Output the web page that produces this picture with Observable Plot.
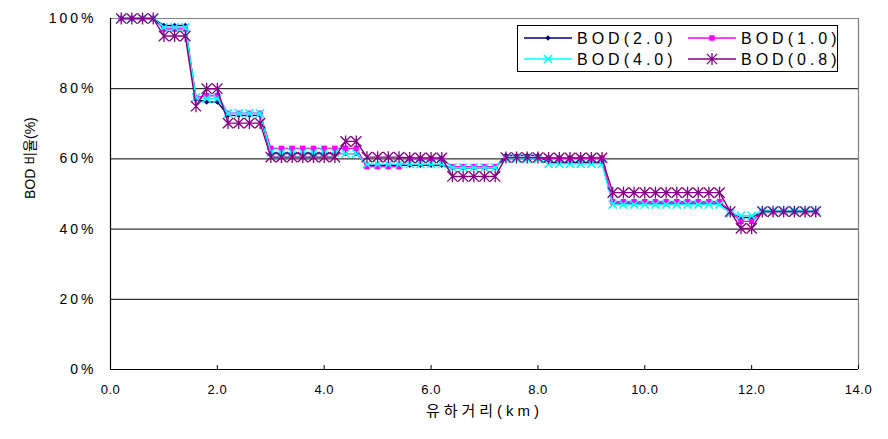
<!DOCTYPE html>
<html><head><meta charset="utf-8">
<script src="https://cdn.jsdelivr.net/npm/d3@7"></script>
<script src="https://cdn.jsdelivr.net/npm/@observablehq/plot@0.6"></script>
<style>
body{margin:0;background:#fff}
#chart{position:relative;width:888px;height:439px}
</style>
</head><body><div id="chart"></div>
<script>
// distance downstream (km)
const km = [0.2,0.4,0.6,0.8,1.0,1.2,1.4,1.6,1.8,2.0,2.2,2.4,2.6,2.8,3.0,3.2,3.4,3.6,3.8,4.0,4.2,4.4,4.6,4.8,5.0,5.2,5.4,5.6,5.8,6.0,6.2,6.4,6.6,6.8,7.0,7.2,7.4,7.6,7.8,8.0,8.2,8.4,8.6,8.8,9.0,9.2,9.4,9.6,9.8,10.0,10.2,10.4,10.6,10.8,11.0,11.2,11.4,11.6,11.8,12.0,12.2,12.4,12.6,12.8,13.0,13.2];
const bod20 = [100,100,100,100,98,98,98,77,76.2,76.2,72.4,72.4,72.4,72.4,61.5,61.5,61.5,61.5,61.5,61.5,61.5,61.5,61.5,58.2,58.2,58.2,58.2,58.2,58.2,58.2,58.2,57.5,57.5,57.5,57.5,57.5,61,61,61,61,59,59,59,59,59,59,47.4,47.4,47.4,47.4,47.4,47.4,47.4,47.4,47.4,47.4,47.4,45,43.3,43.3,45,45,45,45,45,45];
const bod10 = [100,100,100,100,97,97,97,77.5,78,78,73,73,73,73,63,63,63,63,63,63,63,63,63,57.8,57.8,57.8,57.8,60,60,60,60,57.8,57.8,57.8,57.8,57.8,60.3,60.3,60.3,60.3,60.2,60.2,60.2,60.2,60.2,60.2,47.8,47.8,47.8,47.8,47.8,47.8,47.8,47.8,47.8,47.8,47.8,45,42.2,42.2,45,45,45,45,45,45];
const bod40 = [100,100,100,100,97.5,97.5,97.5,77.5,77.2,77.2,73,73,73,73,61.8,61.8,61.8,61.8,61.8,61.8,61.8,61.5,61.5,58.5,58.5,58.5,58.5,58.5,58.5,58.5,58.5,57.5,57.5,57.5,57.5,57.5,60,60,60,60,58.6,58.6,58.6,58.6,58.6,58.6,47,47,47,47,47,47,47,47,47,47,47,44.5,43.8,43.8,45.3,45.3,45.3,45.3,45.3,45.3];
const bod08 = [100,100,100,100,95,95,95,75,80,80,70.2,70.2,70.2,70.2,60.5,60.5,60.5,60.5,60.5,60.5,60.5,65,65,60.5,60.5,60.5,60.5,60.3,60.3,60.3,60.3,55,55,55,55,55,60.4,60.4,60.4,60.4,60.3,60.3,60.3,60.3,60.3,60.3,50.4,50.4,50.4,50.4,50.4,50.4,50.4,50.4,50.4,50.4,50.4,45,40.2,40.2,45,45,45,45,45,45];
const seriesNames = ["BOD(2.0)","BOD(1.0)","BOD(4.0)","BOD(0.8)"];
const colors = ["#000080","#FF00FF","#00FFFF","#800080"];
const xTicks = [0,2,4,6,8,10,12,14];
const yTicks = [0,20,40,60,80,100];
const gridTicks = [20,40,60,80];
const xLabel = "유하거리(km)";
const yLabel = "BOD 비율(%)";

const seriesData = [bod20, bod10, bod40, bod08];
const rows = [];
seriesNames.forEach((name, i) => seriesData[i].forEach((v, j) => rows.push({series: name, km: km[j], value: v})));

const asterisk = {draw(ctx, size) {
  const r = Math.sqrt(size) / 2;
  ctx.moveTo(-r, -r); ctx.lineTo(r, r);
  ctx.moveTo(-r, r); ctx.lineTo(r, -r);
  ctx.moveTo(0, -r * 1.15); ctx.lineTo(0, r * 1.15);
}};
const symbolSpec = [
  {symbol: "diamond2", fill: colors[0], stroke: "none", r: 2.4, strokeWidth: 0},
  {symbol: "square", fill: colors[1], stroke: "none", r: 3.1, strokeWidth: 0},
  {symbol: "times", fill: "none", stroke: colors[2], r: 3.8, strokeWidth: 1.5},
  {symbol: asterisk, fill: "none", stroke: colors[3], r: 5.8, strokeWidth: 1.3}
];

const seriesMarks = [];
seriesNames.forEach((name, i) => {
  const d = rows.filter(r => r.series === name);
  seriesMarks.push(Plot.line(d, {x: "km", y: "value", stroke: colors[i], strokeWidth: 1.4}));
  seriesMarks.push(Plot.dot(d, {x: "km", y: "value", ...symbolSpec[i]}));
});

const chart = Plot.plot({
  width: 888, height: 439,
  marginLeft: 110, marginRight: 30, marginTop: 18, marginBottom: 70,
  style: {fontFamily: "'Liberation Sans', 'Noto Sans CJK KR', sans-serif", fontSize: "13px", color: "#000", background: "#fff", overflow: "visible"},
  x: {domain: [0, 14], label: null},
  y: {domain: [0, 100], label: null},
  marks: [
    Plot.ruleY(gridTicks, {stroke: "#000", strokeWidth: 1}),
    Plot.ruleY([100], {stroke: "#808080", strokeWidth: 1.2}),
    Plot.ruleX([14], {stroke: "#808080", strokeWidth: 1.2}),
    Plot.ruleX([0], {stroke: "#000", strokeWidth: 1.2}),
    Plot.ruleY([0], {stroke: "#000", strokeWidth: 1.2}),
    Plot.axisY(yTicks, {tickSize: 0, tickPadding: 14, tickFormat: d => d + "%", label: null, fontSize: 14}),
    Plot.axisX(xTicks, {tickSize: 4, insetBottom: 4, tickFormat: () => "", label: null}),
    Plot.axisX(xTicks, {tickSize: 0, tickPadding: 15, tickFormat: d => d.toFixed(1), label: null, fontSize: 13}),
    Plot.text([xLabel], {frameAnchor: "bottom", dy: 46, text: d => d, fontSize: 15}),
    Plot.text([yLabel], {frameAnchor: "left", dx: -80, dy: 5, rotate: -90, text: d => d, fontSize: 14}),
    ...seriesMarks
  ]
});
document.getElementById("chart").appendChild(chart);

const svg = d3.select(chart);
svg.selectAll('g[aria-label="y-axis tick label"] text').attr("letter-spacing", "3px");
svg.selectAll('g[aria-label="x-axis tick label"] text').attr("letter-spacing", "0.5px");
svg.selectAll("text").filter(function() { return this.textContent === xLabel; }).attr("letter-spacing", "4px");

// legend (inside plot area)
const lg = svg.append("g").attr("font-family", "'Liberation Sans', 'Noto Sans CJK KR', sans-serif");
lg.append("rect").attr("x", 517.5).attr("y", 25.5).attr("width", 320).attr("height", 46)
  .attr("fill", "#fff").attr("stroke", "#000").attr("stroke-width", 1);
const pos = [[524, 38], [688, 38], [524, 59], [688, 59]];
seriesNames.forEach((name, i) => {
  const [x0, y0] = pos[i];
  const s = symbolSpec[i];
  lg.append("line").attr("x1", x0).attr("x2", x0 + 48).attr("y1", y0).attr("y2", y0)
    .attr("stroke", colors[i]).attr("stroke-width", 1.4);
  const type = typeof s.symbol === "string"
    ? {diamond2: d3.symbolDiamond2, square: d3.symbolSquare, times: d3.symbolTimes}[s.symbol]
    : s.symbol;
  lg.append("path").attr("transform", `translate(${x0 + 24},${y0})`)
    .attr("d", d3.symbol(type, Math.PI * s.r * s.r)())
    .attr("fill", s.fill).attr("stroke", s.stroke).attr("stroke-width", s.strokeWidth);
  lg.append("text").attr("x", x0 + 53).attr("y", y0).attr("dy", "0.36em")
    .attr("text-anchor", "start")
    .attr("font-size", 16).attr("letter-spacing", "4px").attr("fill", "#000").text(name);
});
</script>
</body></html>
